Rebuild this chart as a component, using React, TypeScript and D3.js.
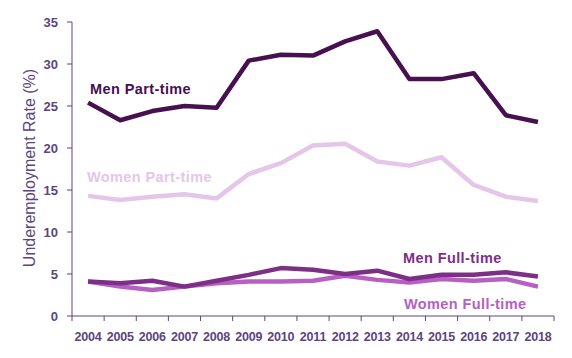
import React from "react";
import * as d3 from "d3";

const years = ["2004","2005","2006","2007","2008","2009","2010","2011","2012","2013","2014","2015","2016","2017","2018"];
const menPartTime = [25.4, 23.3, 24.4, 25.0, 24.8, 30.4, 31.1, 31.0, 32.7, 33.9, 28.2, 28.2, 28.9, 23.9, 23.1];
const womenPartTime = [14.3, 13.8, 14.2, 14.5, 14.0, 16.9, 18.2, 20.3, 20.5, 18.4, 17.9, 18.9, 15.6, 14.2, 13.7];
const menFullTime = [4.1, 3.9, 4.2, 3.5, 4.2, 4.9, 5.7, 5.5, 5.0, 5.4, 4.4, 4.9, 4.9, 5.2, 4.7];
const womenFullTime = [4.1, 3.5, 3.1, 3.5, 3.9, 4.1, 4.1, 4.2, 4.8, 4.3, 4.0, 4.4, 4.2, 4.4, 3.5];
const yTicks = [0, 5, 10, 15, 20, 25, 30, 35];

const series = [
  { name: "Women Part-time", values: womenPartTime, color: "#e5c6e9", lx: 87, ly: 182 },
  { name: "Women Full-time", values: womenFullTime, color: "#b660c2", lx: 404, ly: 309 },
  { name: "Men Full-time", values: menFullTime, color: "#7d2f87", lx: 403, ly: 263 },
  { name: "Men Part-time", values: menPartTime, color: "#47104f", lx: 90, ly: 94 },
];

export default function App() {
  const W = 572, H = 358;
  const x0 = 72, x1 = 554, yTop = 22, yBot = 316;
  const x = d3.scaleBand<string>().domain(years).range([x0, x1]);
  const y = d3.scaleLinear().domain([0, 35]).range([yBot, yTop]);
  const line = d3.line<number>()
    .x((_, i) => (x(years[i]) as number) + x.bandwidth() / 2)
    .y((d) => y(d));
  const axisColor = "#5b4580";
  const font = "'Liberation Sans', Arial, sans-serif";
  const boundaries = years.map((yr) => x(yr) as number).concat([x1]);
  return (
    <svg width={W} height={H} style={{ position: "absolute", left: 0, top: 0, background: "#fff" }} fontFamily={font}>
      <line x1={x0} x2={x0} y1={yTop} y2={yBot} stroke={axisColor} strokeWidth={1} />
      <line x1={x0} x2={x1} y1={yBot} y2={yBot} stroke={axisColor} strokeWidth={1} />
      {yTicks.map((t) => (
        <g key={t}>
          <line x1={x0 - 5} x2={x0} y1={y(t)} y2={y(t)} stroke={axisColor} />
          <text x={58} y={y(t)} dy="0.35em" textAnchor="end" fontSize={13} fontWeight="bold" fill={axisColor}>{t}</text>
        </g>
      ))}
      {boundaries.map((b, i) => (
        <line key={i} x1={b} x2={b} y1={yBot} y2={yBot + 5} stroke={axisColor} />
      ))}
      {years.map((yr) => (
        <text key={yr} x={(x(yr) as number) + x.bandwidth() / 2} y={341} textAnchor="middle" fontSize={12.5} fontWeight="bold" fill={axisColor} letterSpacing={-0.2}>{yr}</text>
      ))}
      <text transform={`translate(35,168) rotate(-90)`} textAnchor="middle" fontSize={16} fill={axisColor}>Underemployment Rate (%)</text>
      {series.map((s) => (
        <path key={s.name} d={line(s.values) || ""} fill="none" stroke={s.color} strokeWidth={4.5} strokeLinejoin="round" />
      ))}
      {series.map((s) => (
        <text key={s.name + "l"} x={s.lx} y={s.ly} fontSize={14.5} fontWeight="bold" fill={s.color} letterSpacing={0.4}>{s.name}</text>
      ))}
    </svg>
  );
}
